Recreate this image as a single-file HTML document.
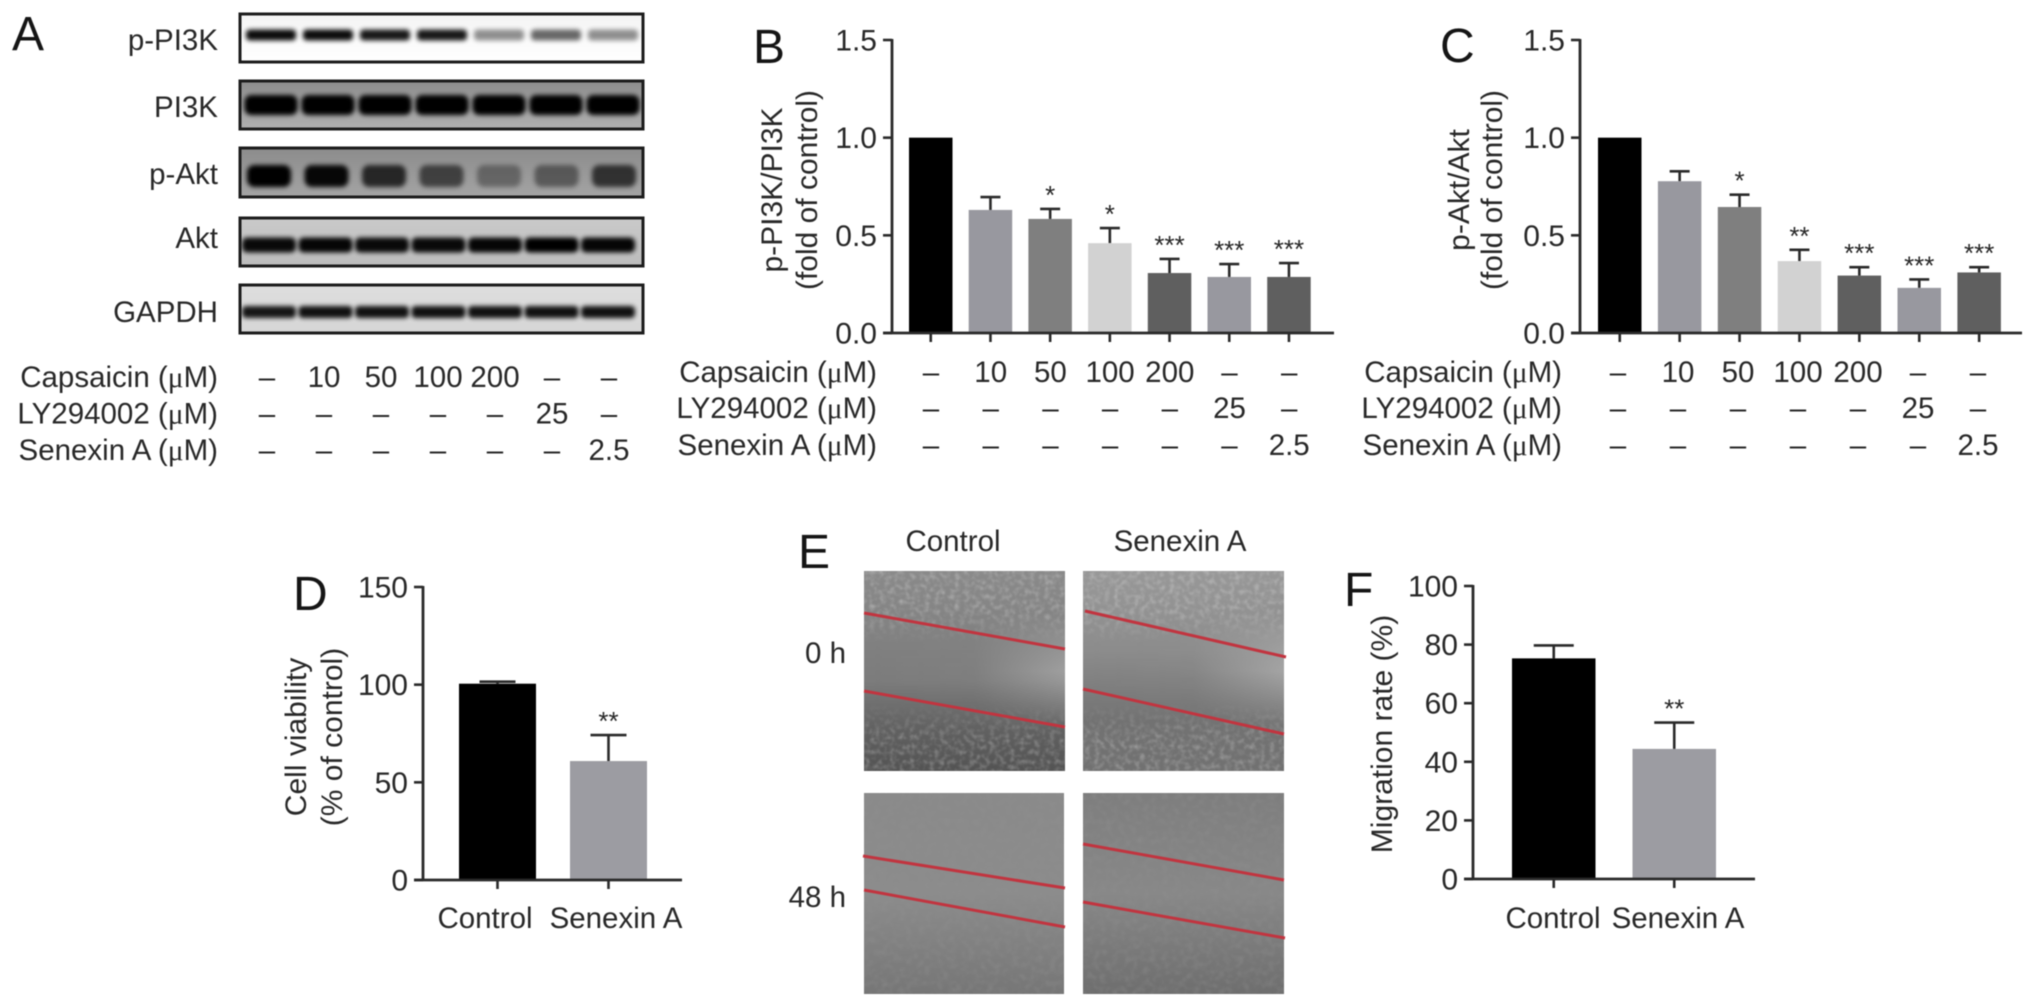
<!DOCTYPE html>
<html lang="en">
<head>
<meta charset="utf-8">
<title>Capsaicin and Senexin A figure</title>
<style>
html,body{margin:0;padding:0;background:#fff;width:2032px;height:1007px;overflow:hidden}
svg{display:block;filter:blur(.6px)}
text{font-family:"Liberation Sans",Arial,sans-serif;fill:#282828}
.mu{font-family:"Liberation Serif",serif}
.letter{font-size:48px;fill:#151515}
.lbl{font-size:29.5px}
</style>
</head>
<body>
<svg id="figure" width="2032" height="1007" viewBox="0 0 2032 1007" xmlns="http://www.w3.org/2000/svg">
<defs>
  <filter id="bandBlur" x="-30%" y="-60%" width="160%" height="220%"><feGaussianBlur stdDeviation="2.4"/></filter>
  <filter id="grain" x="0" y="0" width="100%" height="100%">
    <feTurbulence type="fractalNoise" baseFrequency="0.16" numOctaves="2" seed="7"/>
    <feColorMatrix type="matrix" values="0 0 0 0 0.28  0 0 0 0 0.28  0 0 0 0 0.28  2.2 0 0 0 -0.95"/>
    <feGaussianBlur stdDeviation=".7"/>
  </filter>
  <filter id="grainLight" x="0" y="0" width="100%" height="100%">
    <feTurbulence type="fractalNoise" baseFrequency="0.2" numOctaves="2" seed="3"/>
    <feColorMatrix type="matrix" values="0 0 0 0 1  0 0 0 0 1  0 0 0 0 1  2 0 0 0 -0.85"/>
    <feGaussianBlur stdDeviation=".6"/>
  </filter>
  <linearGradient id="woundA" x1="0" y1="0" x2="0" y2="1"><stop offset="0" stop-color="#8a8a8a"/><stop offset=".3" stop-color="#828282"/><stop offset=".55" stop-color="#7c7c7c"/><stop offset=".78" stop-color="#626262"/><stop offset="1" stop-color="#535353"/></linearGradient>
  <linearGradient id="woundB" x1="0" y1="0" x2="0" y2="1"><stop offset="0" stop-color="#989898"/><stop offset=".4" stop-color="#8c8c8c"/><stop offset=".75" stop-color="#727272"/><stop offset="1" stop-color="#717171"/></linearGradient>
  <linearGradient id="woundC" x1="0" y1="0" x2="0" y2="1"><stop offset="0" stop-color="#8a8a8a"/><stop offset=".5" stop-color="#8c8c8c"/><stop offset="1" stop-color="#767676"/></linearGradient>
  <linearGradient id="woundD" x1="0" y1="0" x2="0" y2="1"><stop offset="0" stop-color="#7e7e7e"/><stop offset=".5" stop-color="#888888"/><stop offset="1" stop-color="#6e6e6e"/></linearGradient>
  <linearGradient id="glow" x1="0" y1="0" x2="1" y2="0"><stop offset="0" stop-color="#fff" stop-opacity="0"/><stop offset=".55" stop-color="#fff" stop-opacity=".02"/><stop offset="1" stop-color="#fff" stop-opacity=".26"/></linearGradient>
  <linearGradient id="glowFade" x1="0" y1="0" x2="0" y2="1"><stop offset=".2" stop-color="#000"/><stop offset=".5" stop-color="#fff"/><stop offset=".8" stop-color="#000"/></linearGradient>
  <linearGradient id="edgeGrad" x1="0" y1="0" x2="0" y2="1"><stop offset="0" stop-color="#fff"/><stop offset=".2" stop-color="#fff"/><stop offset=".36" stop-color="#000"/><stop offset=".66" stop-color="#000"/><stop offset=".84" stop-color="#fff"/><stop offset="1" stop-color="#fff"/></linearGradient>
  <mask id="edgeMask" maskContentUnits="objectBoundingBox" maskUnits="objectBoundingBox" x="0" y="0" width="1" height="1"><rect x="0" y="0" width="1" height="1" fill="url(#edgeGrad)"/></mask>
  <mask id="glowMask" maskContentUnits="objectBoundingBox" maskUnits="objectBoundingBox" x="0" y="0" width="1" height="1"><rect x="0" y="0" width="1" height="1" fill="url(#glowFade)"/></mask>
</defs>

<text class="letter" x="12" y="50">A</text>
<text class="letter" x="753" y="63">B</text>
<text class="letter" x="1440" y="62">C</text>
<text class="letter" x="293" y="610">D</text>
<text class="letter" x="798" y="568">E</text>
<text class="letter" x="1344" y="606">F</text>

<g id="blots"></g>
<g id="tables"></g>
<g id="charts"></g>

<g id="scratch">
  <text class="lbl" x="953" y="551" text-anchor="middle">Control</text>
  <text class="lbl" x="1180" y="551" text-anchor="middle">Senexin A</text>
  <text class="lbl" x="846" y="663" text-anchor="end">0 h</text>
  <text class="lbl" x="846" y="907" text-anchor="end">48 h</text>

  <g>
    <rect x="864" y="571" width="201" height="200" fill="url(#woundA)"/>
    <rect x="864" y="571" width="201" height="200" fill="url(#glow)" mask="url(#glowMask)"/>
    <rect x="864" y="571" width="201" height="200" filter="url(#grainLight)" mask="url(#edgeMask)" opacity=".3"/>
    <line x1="864" y1="613" x2="1065" y2="649" stroke="#c2343f" stroke-width="3"/>
    <line x1="864" y1="691" x2="1065" y2="727" stroke="#c2343f" stroke-width="3"/>
  </g>
  <g>
    <rect x="1083" y="571" width="201" height="200" fill="url(#woundB)"/>
    <rect x="1083" y="571" width="201" height="200" fill="url(#glow)" mask="url(#glowMask)"/>
    <rect x="1083" y="571" width="201" height="200" filter="url(#grainLight)" mask="url(#edgeMask)" opacity=".3"/>
    <line x1="1085" y1="611" x2="1286" y2="657" stroke="#c2343f" stroke-width="3"/>
    <line x1="1083" y1="689" x2="1284" y2="734" stroke="#c2343f" stroke-width="3"/>
  </g>
  <g>
    <rect x="864" y="793" width="200" height="201" fill="url(#woundC)"/>
    <rect x="864" y="793" width="200" height="201" filter="url(#grain)" opacity=".45"/>
    <line x1="863" y1="856" x2="1065" y2="888" stroke="#c2343f" stroke-width="3"/>
    <line x1="864" y1="890" x2="1065" y2="927" stroke="#c2343f" stroke-width="3"/>
  </g>
  <g>
    <rect x="1083" y="793" width="201" height="201" fill="url(#woundD)"/>
    <rect x="1083" y="793" width="201" height="201" filter="url(#grain)" opacity=".45"/>
    <line x1="1083" y1="844" x2="1284" y2="880" stroke="#c2343f" stroke-width="3"/>
    <line x1="1083" y1="902" x2="1285" y2="938" stroke="#c2343f" stroke-width="3"/>
  </g>
</g>
</svg>

<script>
// Treatment table contents
const capsaicinDoses = ['–', '10', '50', '100', '200', '–', '–'];
const ly294002Doses = ['–', '–', '–', '–', '–', '25', '–'];
const senexinDoses = ['–', '–', '–', '–', '–', '–', '2.5'];

// Shared bar colours
const treatmentColors = ['#000000', '#98989f', '#7f7f7f', '#d2d2d2', '#5f5f5f', '#98989f', '#5f5f5f'];
const pairColors = ['#000000', '#9c9ca2'];

// Panel B
const panelBValues = [1.0, 0.63, 0.584, 0.46, 0.307, 0.287, 0.287];
const panelBErrors = [0, 0.066, 0.051, 0.077, 0.072, 0.066, 0.071];
const panelBStars = ['', '', '*', '*', '***', '***', '***'];
const panelBTicks = [0, 0.5, 1.0, 1.5];
const panelBTickLabels = ['0.0', '0.5', '1.0', '1.5'];

// Panel C
const panelCValues = [1.0, 0.777, 0.645, 0.368, 0.294, 0.231, 0.31];
const panelCErrors = [0, 0.051, 0.063, 0.058, 0.043, 0.043, 0.027];
const panelCStars = ['', '', '*', '**', '***', '***', '***'];
const panelCTicks = [0, 0.5, 1.0, 1.5];
const panelCTickLabels = ['0.0', '0.5', '1.0', '1.5'];

// Panel D
const panelDCategories = ['Control', 'Senexin A'];
const panelDValues = [100.5, 60.9];
const panelDErrors = [1, 13.3];
const panelDStars = ['', '**'];
const panelDTicks = [0, 50, 100, 150];
const panelDTickLabels = ['0', '50', '100', '150'];

// Panel F
const panelFCategories = ['Control', 'Senexin A'];
const panelFValues = [75.3, 44.4];
const panelFErrors = [4.4, 9];
const panelFStars = ['', '**'];
const panelFTicks = [0, 20, 40, 60, 80, 100];
const panelFTickLabels = ['0', '20', '40', '60', '80', '100'];

// Blot band intensities per lane
const blotProteins = ['p-PI3K', 'PI3K', 'p-Akt', 'Akt', 'GAPDH'];
const pPI3KBands = [0.95, 0.95, 0.9, 0.9, 0.42, 0.58, 0.42];
const pI3KBands = [1, 1, 1, 1, 1, 1, 1];
const pAktBands = [1, 0.95, 0.75, 0.58, 0.34, 0.42, 0.68];
const aktBands = [0.95, 0.97, 0.95, 0.95, 0.97, 1, 0.97];
const gapdhBands = [0.9, 0.92, 0.92, 0.92, 0.92, 0.92, 0.92];

const NS = 'http://www.w3.org/2000/svg';
function make(tag, attrs, parent) {
  const node = document.createElementNS(NS, tag);
  for (const k in attrs) node.setAttribute(k, attrs[k]);
  parent.appendChild(node);
  return node;
}

/* ---------- western blots ---------- */
const blotRoot = document.getElementById('blots');
const blotBoxes = [
  {top: 14, bottom: 62, cy: 35, h: 11, bg: ['#f4f4f4', '#ffffff'], lane0: 271, step: 57, w: 50, bands: pPI3KBands, base: 50},
  {top: 81, bottom: 129, cy: 105, h: 20, bg: ['#8d8d8d', '#b0b0b0'], lane0: 271, step: 57, w: 53, bands: pI3KBands, base: 117},
  {top: 148, bottom: 197, cy: 176, h: 22, bg: ['#8c8c8c', '#a4a4a4'], lane0: 269, step: 57.5, w: 44, bands: pAktBands, base: 184},
  {top: 218, bottom: 266, cy: 245, h: 15, bg: ['#cacaca', '#bcbcbc'], lane0: 269, step: 56.5, w: 54, bands: aktBands, base: 248},
  {top: 285, bottom: 333, cy: 312, h: 12, bg: ['#dedede', '#d6d6d6'], lane0: 269, step: 56.5, w: 54, bands: gapdhBands, base: 322}
];
blotBoxes.forEach(function (box, r) {
  const group = make('g', {}, blotRoot);
  
  
  const label = make('text', {x: 218, y: box.base, 'text-anchor': 'end', 'font-size': 29.5}, group);
  label.textContent = blotProteins[r];
  
  
  const gradId = 'blotBg' + r;
  const grad = make('linearGradient', {id: gradId, x1: 0, y1: 0, x2: 0, y2: 1}, group);
  make('stop', {offset: 0, 'stop-color': box.bg[0]}, grad);
  make('stop', {offset: 1, 'stop-color': box.bg[1]}, grad);
  make('rect', {x: 239, y: box.top, width: 405, height: box.bottom - box.top, fill: 'url(#' + gradId + ')'}, group);
  const clipId = 'blotClip' + r;
  const clip = make('clipPath', {id: clipId}, group);
  make('rect', {x: 239, y: box.top, width: 405, height: box.bottom - box.top}, clip);
  const lanes = make('g', {'clip-path': 'url(#' + clipId + ')'}, group);
  box.bands.forEach(function (v, i) {
    const cx = box.lane0 + i * box.step;
    const band = make('rect', {
      x: cx - box.w / 2, y: box.cy - box.h / 2, width: box.w, height: box.h,
      rx: box.h / 3, fill: '#050505', opacity: v, filter: 'url(#bandBlur)'
    }, lanes);
    
    
  });
  const frame = make('rect', {x: 240, y: box.top, width: 403, height: box.bottom - box.top, fill: 'none', stroke: '#1c1c1c', 'stroke-width': 3}, group);
  
  
});

/* ---------- treatment tables ---------- */
const tableRoot = document.getElementById('tables');
const rowNames = ['Capsaicin', 'LY294002', 'Senexin A'];
const rowDoses = [capsaicinDoses, ly294002Doses, senexinDoses];
function drawTable(labelRight, baselines, colX) {
  rowNames.forEach(function (name, r) {
    const head = make('text', {x: labelRight, y: baselines[r], 'text-anchor': 'end', 'font-size': 29.5}, tableRoot);
    head.innerHTML = name + ' (<tspan class="mu">μ</tspan>M)';
    
    
    rowDoses[r].forEach(function (dose, i) {
      const cell = make('text', {x: colX(i), y: baselines[r], 'text-anchor': 'middle', 'font-size': 29.5}, tableRoot);
      cell.textContent = dose;
      
      
    });
  });
}
drawTable(218, [387, 423.5, 460], function (i) { return 267 + i * 57; });
drawTable(877, [382, 418, 455], function (i) { return 931 + i * 59.7; });
drawTable(1562, [382, 418, 455], function (i) { return 1618 + i * 60; });

/* ---------- bar charts ---------- */
const chartRoot = document.getElementById('charts');
const INK = '#2a2a2a';
function drawChart(cfg) {
  const g = make('g', {}, chartRoot);
  
  
  const maxTick = cfg.ticks[cfg.ticks.length - 1];
  const yOf = function (v) { return cfg.base - (v / maxTick) * (cfg.base - cfg.top); };
  const xOf = function (i) { return cfg.x0 + i * cfg.step; };

  cfg.values.forEach(function (v, i) {
    const cx = xOf(i) + cfg.barW / 2;
    const err = cfg.errors[i];
    if (err > 0) {
      const stem = make('line', {x1: cx, x2: cx, y1: yOf(v), y2: yOf(v + err), stroke: INK, 'stroke-width': 2.6}, g);
      
      
      const cap = make('line', {x1: cx - cfg.cap / 2, x2: cx + cfg.cap / 2, y1: yOf(v + err), y2: yOf(v + err), stroke: INK, 'stroke-width': 2.6}, g);
      
      
    }
    const bar = make('rect', {x: xOf(i), y: yOf(v), width: cfg.barW, height: cfg.base - yOf(v), fill: cfg.colors[i]}, g);
    
    
    if (cfg.stars[i]) {
      const star = make('text', {x: cx, y: yOf(v + err) - 5, 'text-anchor': 'middle', 'font-size': 26}, g);
      star.textContent = cfg.stars[i];
      
      
    }
    const tick = make('line', {x1: cx, x2: cx, y1: cfg.base, y2: cfg.base + 9, stroke: INK, 'stroke-width': 2.6}, g);
    
    
  });

  const yAxis = make('line', {x1: cfg.axisX, x2: cfg.axisX, y1: cfg.top - 1, y2: cfg.base + 1, stroke: INK, 'stroke-width': 2.8}, g);
  
  
  const xAxis = make('line', {x1: cfg.axisX - 9, x2: cfg.axisEnd, y1: cfg.base, y2: cfg.base, stroke: INK, 'stroke-width': 2.8}, g);
  
  

  cfg.ticks.forEach(function (t, i) {
    const y = yOf(t);
    const tick = make('line', {x1: cfg.axisX - 9, x2: cfg.axisX, y1: y, y2: y, stroke: INK, 'stroke-width': 2.6}, g);
    
    
    const lab = make('text', {x: cfg.axisX - 15, y: y + 10.5, 'text-anchor': 'end', 'font-size': 30}, g);
    lab.textContent = cfg.tickLabels[i];
    
    
  });

  cfg.titles.forEach(function (t) {
    const title = make('text', {
      transform: 'translate(' + t.x + ' ' + cfg.titleY + ') rotate(-90)',
      'text-anchor': 'middle', 'font-size': 30
    }, g);
    title.textContent = t.text;
    
    
  });

  if (cfg.categories) {
    cfg.categories.forEach(function (c, i) {
      const lab = make('text', {x: cfg.catX[i], y: 928, 'text-anchor': 'middle', 'font-size': 29.5}, g);
      lab.textContent = c;
      
      
    });
  }
}

drawChart({
  name: 'panel-b-chart', values: panelBValues, errors: panelBErrors, stars: panelBStars,
  ticks: panelBTicks, tickLabels: panelBTickLabels, colors: treatmentColors,
  top: 40, base: 333, axisX: 892, axisEnd: 1334, x0: 909, step: 59.7, barW: 43.5, cap: 20,
  titleY: 190, titles: [{x: 782, text: 'p-PI3K/PI3K'}, {x: 817, text: '(fold of control)'}]
});
drawChart({
  name: 'panel-c-chart', values: panelCValues, errors: panelCErrors, stars: panelCStars,
  ticks: panelCTicks, tickLabels: panelCTickLabels, colors: treatmentColors,
  top: 40, base: 333, axisX: 1580, axisEnd: 2022, x0: 1598, step: 59.9, barW: 43.5, cap: 20,
  titleY: 190, titles: [{x: 1469, text: 'p-Akt/Akt'}, {x: 1502, text: '(fold of control)'}]
});
drawChart({
  name: 'panel-d-chart', values: panelDValues, errors: panelDErrors, stars: panelDStars,
  ticks: panelDTicks, tickLabels: panelDTickLabels, colors: pairColors,
  categories: panelDCategories, catX: [485, 616],
  top: 587, base: 880, axisX: 423, axisEnd: 682, x0: 459, step: 111, barW: 77, cap: 36,
  titleY: 737, titles: [{x: 306, text: 'Cell viability'}, {x: 342, text: '(% of control)'}]
});
drawChart({
  name: 'panel-f-chart', values: panelFValues, errors: panelFErrors, stars: panelFStars,
  ticks: panelFTicks, tickLabels: panelFTickLabels, colors: pairColors,
  categories: panelFCategories, catX: [1553, 1678],
  top: 586, base: 879, axisX: 1473, axisEnd: 1755, x0: 1512, step: 120.5, barW: 83.5, cap: 40,
  titleY: 734, titles: [{x: 1392, text: 'Migration rate (%)'}]
});
</script>
</body>
</html>
